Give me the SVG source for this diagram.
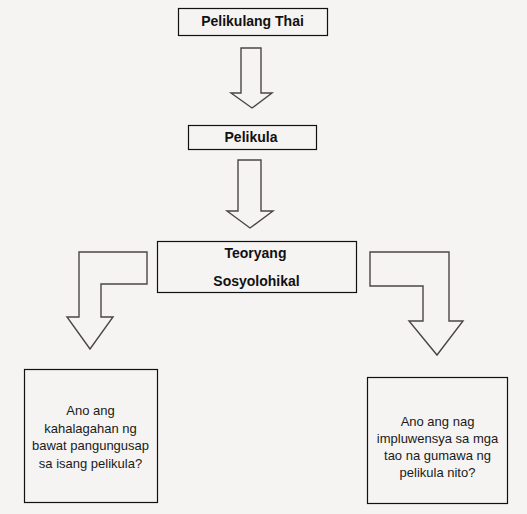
<svg xmlns="http://www.w3.org/2000/svg" width="527" height="514" viewBox="0 0 527 514">
<style>
.box{fill:#f5f4f2;stroke:#111;stroke-width:1.2}
.arr{fill:#f5f4f2;stroke:#4a4644;stroke-width:1.4;stroke-linejoin:miter}
.b{font-family:"Liberation Sans",Arial,sans-serif;font-weight:bold;font-size:14px;fill:#111;text-anchor:middle}
.t{font-family:"Liberation Sans",Arial,sans-serif;font-size:13px;fill:#1a1a1a;text-anchor:middle}
</style>
<rect width="527" height="514" fill="#f5f4f2"/>
<g id="connectors">
<polygon class="arr" points="241,48 261,48 261,93 272,93 252,108 231,93 241,93"/>
<polygon class="arr" points="238,160 261,160 261,211 273,211 250,228 227,211 238,211"/>
<polygon class="arr" points="79,252 147,252 147,284 101,284 101,317 113,317 90,349 67,317 79,317"/>
<polygon class="arr" points="370,252 449,252 449,321 463,321 437,355 409,321 423,321 423,286 370,286"/>
</g>
<g id="node-pelikulang-thai">
<rect class="box" x="178.5" y="8.5" width="149" height="27"/>
<text class="b" x="252.5" y="25.5">Pelikulang Thai</text>
</g>
<g id="node-pelikula">
<rect class="box" x="188.5" y="125.5" width="128" height="24"/>
<text class="b" x="251" y="142">Pelikula</text>
</g>
<g id="node-teoryang">
<rect class="box" x="157.5" y="241.5" width="199" height="51"/>
<text class="b" x="255.5" y="258">Teoryang</text>
<text class="b" x="256.5" y="286">Sosyolohikal</text>
</g>
<g id="node-kahalagahan">
<rect class="box" x="24.5" y="369.5" width="133" height="133"/>
<text class="t" x="90.5" y="415">Ano ang</text>
<text class="t" x="90.5" y="432.5">kahalagahan ng</text>
<text class="t" x="90.5" y="450">bawat pangungusap</text>
<text class="t" x="90.5" y="467.5">sa isang pelikula?</text>
</g>
<g id="node-impluwensya">
<rect class="box" x="367.5" y="377.5" width="140" height="126"/>
<text class="t" x="437.5" y="426">Ano ang nag</text>
<text class="t" x="437.5" y="443">impluwensya sa mga</text>
<text class="t" x="437.5" y="460">tao na gumawa ng</text>
<text class="t" x="437.5" y="477">pelikula nito?</text>
</g>
</svg>
